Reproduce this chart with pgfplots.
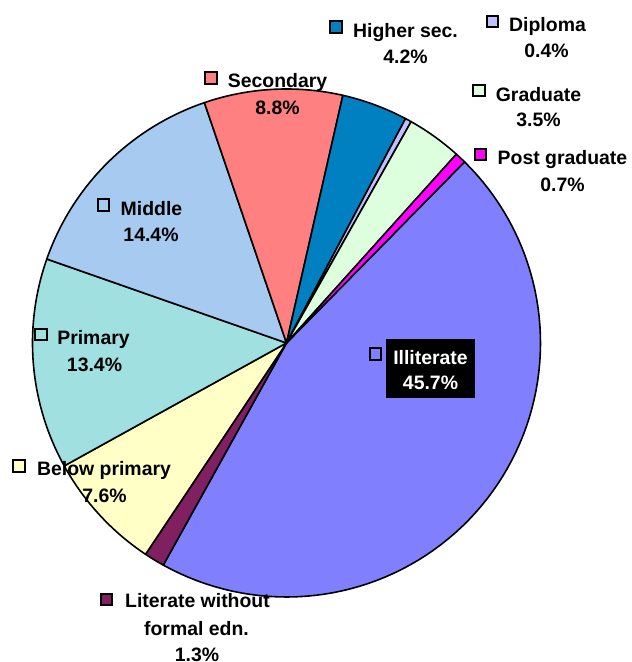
\documentclass[border=0pt]{standalone}
\usepackage{pgfplots}
\pgfplotsset{compat=1.18}
\usepackage{fontspec}
\setmainfont{Liberation Sans}
\definecolor{cIllit}{HTML}{8080FF}
\definecolor{cLit}{HTML}{802060}
\definecolor{cBelow}{HTML}{FFFFC6}
\definecolor{cPrim}{HTML}{A0E0E0}
\definecolor{cMid}{HTML}{A6CAF0}
\definecolor{cSec}{HTML}{FF8080}
\definecolor{cHigh}{HTML}{0080C0}
\definecolor{cDip}{HTML}{C0C0FF}
\definecolor{cGrad}{HTML}{DDFFDD}
\definecolor{cPost}{HTML}{FF00FF}
\def\cx{286.5}\def\cy{319}\def\pieR{254}
\gdef\cumang{45.5}
\newcommand\slice[2]{%
  \pgfmathsetmacro\aStart{\cumang}%
  \pgfmathsetmacro\aEnd{\cumang-3.6*#1}%
  \xdef\cumang{\aEnd}%
  \addplot[fill=#2, draw=black, line width=1.6bp, line join=round, domain=\aEnd:\aStart, samples=80, variable=\t]
    ({\cx+\pieR*cos(\t)},{\cy+\pieR*sin(\t)}) -- (axis cs:\cx,\cy) -- cycle;
}
\newcommand\lfont{\fontsize{19.5}{24}\selectfont\bfseries}
\newcommand\key[3]{\node[draw=black, line width=1.8bp, fill=#3, minimum size=11.5bp, inner sep=0pt] at (axis cs:#1,{662-#2}) {};}
\newcommand\lbl[3]{\node[anchor=base, inner sep=0pt, font=\lfont] at (axis cs:#1,{662-#2}) {#3};}
\begin{document}
\begin{tikzpicture}
\begin{axis}[hide axis, scale only axis, width=632bp, height=662bp,
  xmin=0, xmax=632, ymin=0, ymax=662, clip=false]
\slice{45.7}{cIllit}
\slice{1.3}{cLit}
\slice{7.6}{cBelow}
\slice{13.4}{cPrim}
\slice{14.4}{cMid}
\slice{8.8}{cSec}
\slice{4.2}{cHigh}
\slice{0.4}{cDip}
\slice{3.5}{cGrad}
\slice{0.7}{cPost}
% Illiterate label box
\fill[black] (axis cs:386,{662-339}) rectangle (axis cs:475,{662-398});
\key{375.5}{354}{cIllit}
\node[anchor=base, inner sep=0pt, text=white, font=\lfont] at (axis cs:430.5,{662-365}) {Illiterate};
\node[anchor=base, inner sep=0pt, text=white, font=\lfont] at (axis cs:430.5,{662-389.5}) {45.7\%};
% other labels
\key{336}{27}{cHigh}
\lbl{405.5}{38}{Higher sec.}\lbl{405.5}{64}{4.2\%}
\key{492.5}{21.5}{cDip}
\lbl{547.5}{31.5}{Diploma}\lbl{546.5}{57.5}{0.4\%}
\key{479}{90.5}{cGrad}
\lbl{538.5}{101.5}{Graduate}\lbl{538.5}{127}{3.5\%}
\key{480.5}{154.5}{cPost}
\lbl{562.5}{165}{Post graduate}\lbl{562.5}{191.5}{0.7\%}
\key{211}{78}{cSec}
\lbl{277.5}{87.5}{Secondary}\lbl{277.5}{114.5}{8.8\%}
\key{103.5}{205}{cMid}
\lbl{151.5}{215.5}{Middle}\lbl{151}{241.5}{14.4\%}
\key{41}{334.5}{cPrim}
\lbl{93.5}{345}{Primary}\lbl{94.5}{371.5}{13.4\%}
\key{19}{466}{cBelow}
\lbl{104}{476}{Below primary}\lbl{104.5}{502.5}{7.6\%}
\key{106.5}{599.5}{cLit}
\lbl{197.5}{607.5}{Literate without}\lbl{196.5}{635}{formal edn.}\lbl{197}{661}{1.3\%}
\end{axis}
\pgfresetboundingbox
\useasboundingbox (0,0) rectangle (632bp,662bp);
\end{tikzpicture}
\end{document}
